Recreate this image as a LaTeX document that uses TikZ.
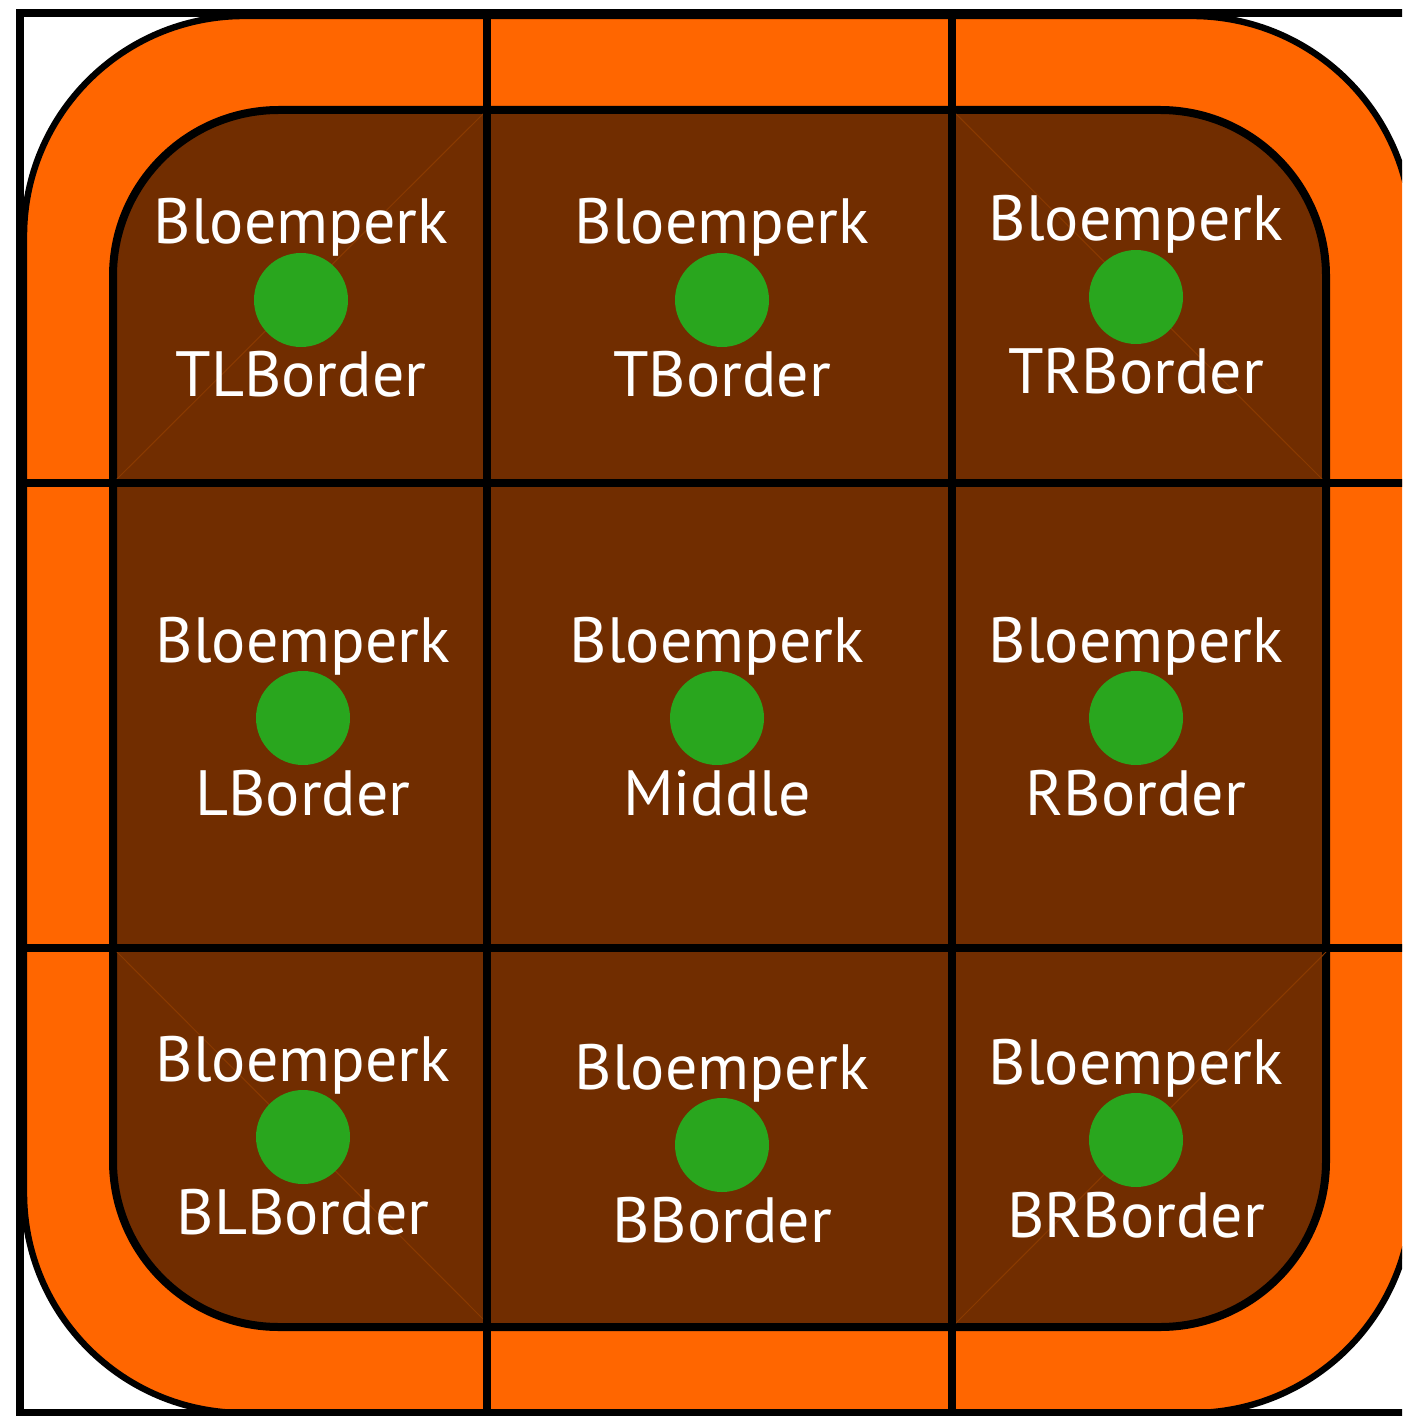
\documentclass[tikz,border=0pt]{standalone}
\usepackage{fontspec}
\setmainfont{PT Sans}
\usepackage{xcolor}
\usepackage{tikz}
\usetikzlibrary{positioning}
\definecolor{oranje}{HTML}{FF6600}
\definecolor{bruin}{HTML}{712D00}
\definecolor{groen}{HTML}{29A61E}
\definecolor{naad}{HTML}{8A3A00}

\begin{document}
\begin{tikzpicture}[x=0.5pt, y=-0.5pt,
    plant/.style={circle, fill=groen, minimum size=47pt, inner sep=0pt},
    lbl/.style={text=white, font=\fontsize{32}{32}\selectfont, inner sep=0pt, anchor=base},
    rand/.style={line width=4pt}]
    \useasboundingbox (0,0) rectangle (1402,1416);
    \clip (0,0) rectangle (1402,1416);
    % Rand en perk
    \draw[fill=oranje, line width=3.2pt, rounded corners=110pt] (24,16) rectangle (1412,1413);
    \draw[fill=bruin, rand, rounded corners=83pt] (113,110) rectangle (1326,1327);
    % naden in de hoektegels
    \draw[naad, line width=0.5pt] (113,483) -- (487,110);
    \draw[naad, line width=0.5pt] (952,110) -- (1326,483);
    \draw[naad, line width=0.5pt] (113,948) -- (487,1323);
    \draw[naad, line width=0.5pt] (952,1327) -- (1326,952);
    % Tegels
    \draw[rand] (20,13) rectangle (1420,1413);
    \draw[rand] (487,13) -- (487,1413);
    \draw[rand] (952,13) -- (952,1413);
    \draw[rand] (20,483) -- (1420,483);
    \draw[rand] (20,948) -- (1420,948);
    % Bovenste rij
    \node[plant] (tl) at (301,300) {};
    \node[lbl, yshift=28pt] (tl-a) at (tl) {Bloemperk};
    \node[lbl, yshift=-48.5pt] (tl-b) at (tl) {TLBorder};
    \node[plant] (t) at (722,300) {};
    \node[lbl, yshift=28pt] (t-a) at (t) {Bloemperk};
    \node[lbl, yshift=-48.5pt] (t-b) at (t) {TBorder};
    \node[plant] (tr) at (1136,297) {};
    \node[lbl, yshift=28pt] (tr-a) at (tr) {Bloemperk};
    \node[lbl, yshift=-48.5pt] (tr-b) at (tr) {TRBorder};
    % Middelste rij
    \node[plant] (l) at (303,718) {};
    \node[lbl, yshift=28pt] (l-a) at (l) {Bloemperk};
    \node[lbl, yshift=-48.5pt] (l-b) at (l) {LBorder};
    \node[plant] (m) at (717,718) {};
    \node[lbl, yshift=28pt] (m-a) at (m) {Bloemperk};
    \node[lbl, yshift=-48.5pt] (m-b) at (m) {Middle};
    \node[plant] (r) at (1136,718) {};
    \node[lbl, yshift=28pt] (r-a) at (r) {Bloemperk};
    \node[lbl, yshift=-48.5pt] (r-b) at (r) {RBorder};
    % Onderste rij
    \node[plant] (bl) at (303,1137) {};
    \node[lbl, yshift=28pt] (bl-a) at (bl) {Bloemperk};
    \node[lbl, yshift=-48.5pt] (bl-b) at (bl) {BLBorder};
    \node[plant] (b) at (722,1145) {};
    \node[lbl, yshift=28pt] (b-a) at (b) {Bloemperk};
    \node[lbl, yshift=-48.5pt] (b-b) at (b) {BBorder};
    \node[plant] (br) at (1136,1140) {};
    \node[lbl, yshift=28pt] (br-a) at (br) {Bloemperk};
    \node[lbl, yshift=-48.5pt] (br-b) at (br) {BRBorder};
\end{tikzpicture}
\end{document}
